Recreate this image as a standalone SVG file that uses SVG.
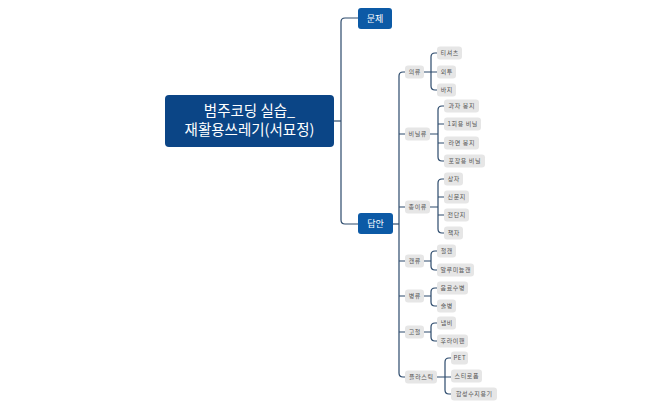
<svg xmlns="http://www.w3.org/2000/svg" width="662" height="410" viewBox="0 0 662 410">
<style>
.root{fill:#0b4586}
.main{fill:#0c5aa6}
.leaf{fill:#e6e6e6}
.rt{font-family:"Noto Sans CJK KR","Noto Sans",sans-serif;font-size:14.5px;fill:#fff;text-anchor:middle}
.mt{font-family:"Noto Sans CJK KR","Noto Sans",sans-serif;font-size:9px;fill:#fff;text-anchor:middle}
.lt{font-family:"Noto Sans CJK KR","Noto Sans",sans-serif;font-size:6px;letter-spacing:0.6px;fill:#555;text-anchor:middle}
.c{fill:none;stroke:#2c4a6c;stroke-width:1.2}
</style>
<rect width="662" height="410" fill="#fff"/>
<g id="connectors">
<path class="c" d="M334,121 H341"/>
<path class="c" d="M358,18 H345 Q341,18 341,22 V220 Q341,224 345,224 H358"/>
<path class="c" d="M393,224 H399"/>
<path class="c" d="M405,72 H403 Q399,72 399,76 V373 Q399,377 403,377 H405"/>
<path class="c" d="M399,134 H405 M399,207 H405 M399,261 H405 M399,296 H405 M399,332 H405"/>
<!-- 의류 -->
<path class="c" d="M424,72 H437 M437,53 H435 Q431,53 431,57 V86 Q431,90 435,90 H437"/>
<!-- 비닐류 -->
<path class="c" d="M430,134 H438 M444,106 H442 Q438,106 438,110 V157 Q438,161 442,161 H444 M438,124 H444 M438,143 H444"/>
<!-- 종이류 -->
<path class="c" d="M430,207 H438 M444,179 H442 Q438,179 438,183 V229 Q438,233 442,233 H444 M438,197 H444 M438,215 H444"/>
<!-- 캔류 -->
<path class="c" d="M424,261 H431 M437,251 H435 Q431,251 431,255 V266 Q431,270 435,270 H437"/>
<!-- 병류 -->
<path class="c" d="M424,296 H431 M437,288 H435 Q431,288 431,292 V302 Q431,306 435,306 H437"/>
<!-- 고철 -->
<path class="c" d="M424,332 H431 M437,323 H435 Q431,323 431,327 V337 Q431,341 435,341 H437"/>
<!-- 플라스틱 -->
<path class="c" d="M437,377 H451 M451,358 H449 Q445,358 445,362 V390 Q445,394 449,394 H451"/>
</g>
<g id="root"><rect class="root" x="165" y="95" width="169" height="52" rx="4"/><text class="rt" x="249.5" y="116">범주코딩 실습_</text><text class="rt" x="249.5" y="135">재활용쓰레기(서묘정)</text></g>
<g id="n-problem"><rect class="main" x="358" y="8" width="34" height="21" rx="3"/><text class="mt" x="375" y="21.5">문제</text></g>
<g id="n-answer"><rect class="main" x="358" y="213" width="35" height="21" rx="3"/><text class="mt" x="375.5" y="227">답안</text></g>

<g id="c1"><rect class="leaf" x="405" y="65.5" width="19" height="13" rx="3"/><text class="lt" x="414.8" y="74.2">의류</text></g>
<g id="c1a"><rect class="leaf" x="437" y="46.5" width="25" height="13" rx="3"/><text class="lt" x="449.8" y="55.2">티셔츠</text></g>
<g id="c1b"><rect class="leaf" x="437" y="65.5" width="19" height="13" rx="3"/><text class="lt" x="446.8" y="74.2">외투</text></g>
<g id="c1c"><rect class="leaf" x="437" y="83.5" width="19" height="13" rx="3"/><text class="lt" x="446.8" y="92.2">바지</text></g>

<g id="c2"><rect class="leaf" x="405" y="127.5" width="25" height="13" rx="3"/><text class="lt" x="417.8" y="136.2">비닐류</text></g>
<g id="c2a"><rect class="leaf" x="444" y="99.5" width="35" height="13" rx="3"/><text class="lt" x="461.8" y="108.2">과자 봉지</text></g>
<g id="c2b"><rect class="leaf" x="444" y="117.5" width="37" height="13" rx="3"/><text class="lt" x="462.8" y="126.2">1회용 비닐</text></g>
<g id="c2c"><rect class="leaf" x="444" y="136.5" width="35" height="13" rx="3"/><text class="lt" x="461.8" y="145.2">라면 봉지</text></g>
<g id="c2d"><rect class="leaf" x="444" y="154.5" width="41" height="13" rx="3"/><text class="lt" x="464.8" y="163.2">포장용 비닐</text></g>

<g id="c3"><rect class="leaf" x="405" y="200.5" width="25" height="13" rx="3"/><text class="lt" x="417.8" y="209.2">종이류</text></g>
<g id="c3a"><rect class="leaf" x="444" y="172.5" width="19" height="13" rx="3"/><text class="lt" x="453.8" y="181.2">상자</text></g>
<g id="c3b"><rect class="leaf" x="444" y="190.5" width="25" height="13" rx="3"/><text class="lt" x="456.8" y="199.2">신문지</text></g>
<g id="c3c"><rect class="leaf" x="444" y="208.5" width="25" height="13" rx="3"/><text class="lt" x="456.8" y="217.2">전단지</text></g>
<g id="c3d"><rect class="leaf" x="444" y="226.5" width="19" height="13" rx="3"/><text class="lt" x="453.8" y="235.2">책자</text></g>

<g id="c4"><rect class="leaf" x="405" y="254.5" width="19" height="13" rx="3"/><text class="lt" x="414.8" y="263.2">캔류</text></g>
<g id="c4a"><rect class="leaf" x="437" y="244.5" width="19" height="13" rx="3"/><text class="lt" x="446.8" y="253.2">철캔</text></g>
<g id="c4b"><rect class="leaf" x="437" y="263.5" width="37" height="13" rx="3"/><text class="lt" x="455.8" y="272.2">알루미늄캔</text></g>

<g id="c5"><rect class="leaf" x="405" y="289.5" width="19" height="13" rx="3"/><text class="lt" x="414.8" y="298.2">병류</text></g>
<g id="c5a"><rect class="leaf" x="437" y="281.5" width="31" height="13" rx="3"/><text class="lt" x="452.8" y="290.2">음료수병</text></g>
<g id="c5b"><rect class="leaf" x="437" y="299.5" width="19" height="13" rx="3"/><text class="lt" x="446.8" y="308.2">술병</text></g>

<g id="c6"><rect class="leaf" x="405" y="325.5" width="19" height="13" rx="3"/><text class="lt" x="414.8" y="334.2">고철</text></g>
<g id="c6a"><rect class="leaf" x="437" y="316.5" width="19" height="13" rx="3"/><text class="lt" x="446.8" y="325.2">냄비</text></g>
<g id="c6b"><rect class="leaf" x="437" y="334.5" width="31" height="13" rx="3"/><text class="lt" x="452.8" y="343.2">후라이팬</text></g>

<g id="c7"><rect class="leaf" x="405" y="370.5" width="32" height="13" rx="3"/><text class="lt" x="421.3" y="379.2">플라스틱</text></g>
<g id="c7a"><rect class="leaf" x="451" y="351.5" width="17" height="13" rx="3"/><text class="lt" x="459.8" y="360.2">PET</text></g>
<g id="c7b"><rect class="leaf" x="451" y="369.5" width="31" height="13" rx="3"/><text class="lt" x="466.8" y="378.2">스티로폼</text></g>
<g id="c7c"><rect class="leaf" x="451" y="387.5" width="46" height="13" rx="3"/><text class="lt" x="474.3" y="396.2">합성수지용기</text></g>
</svg>
